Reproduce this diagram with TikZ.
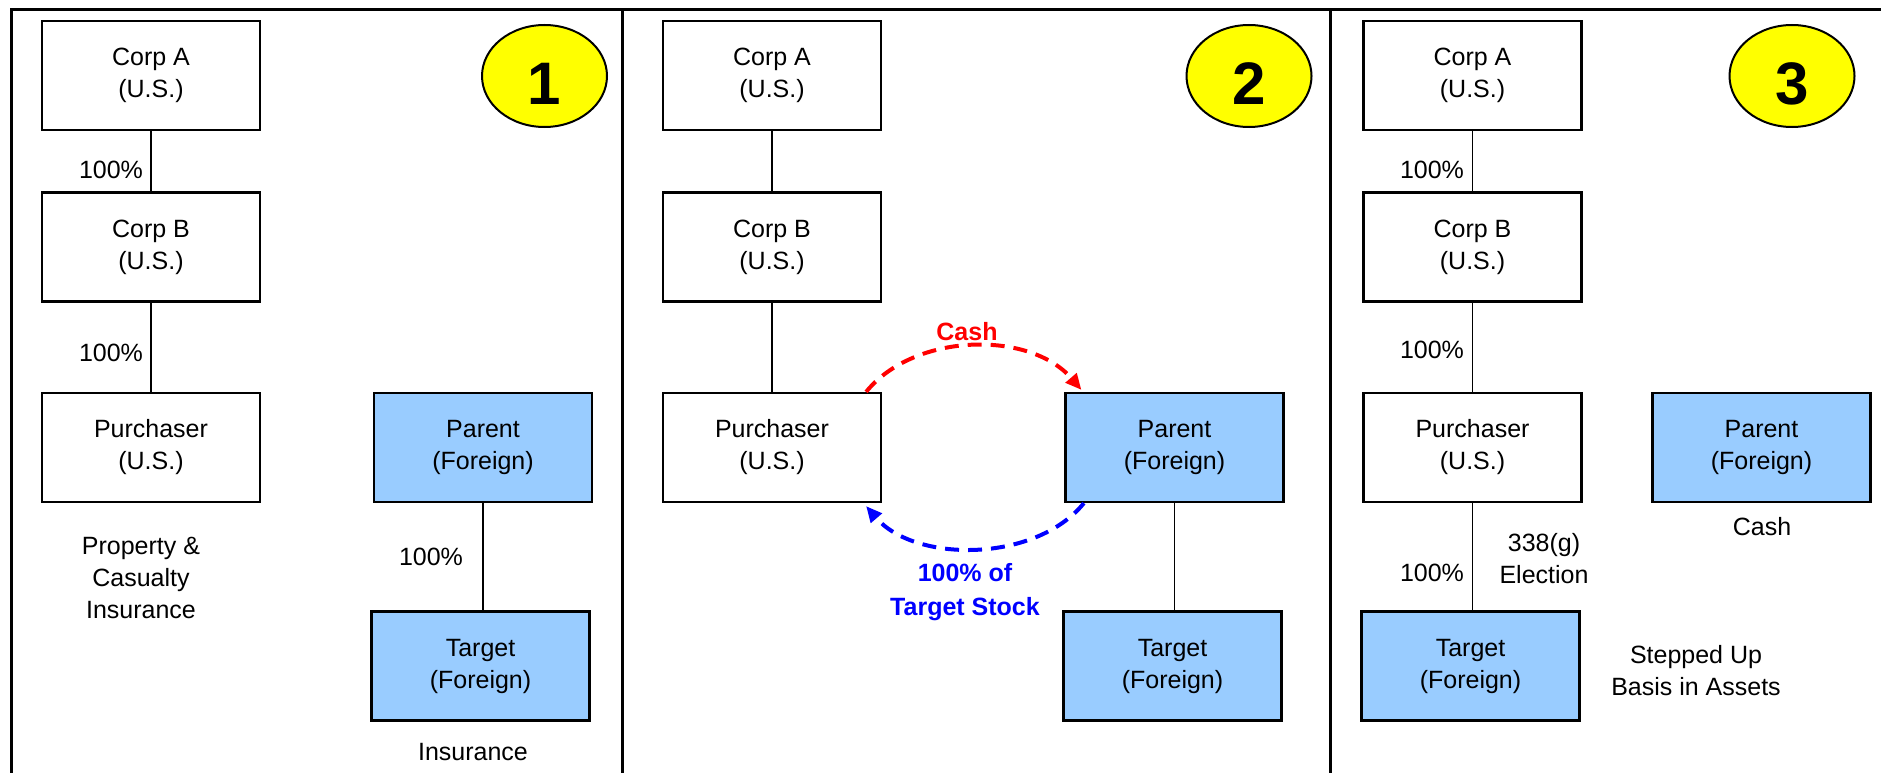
\documentclass[tikz,border=0pt]{standalone}
\usepackage{fontspec}
\setmainfont{Liberation Sans}
\usetikzlibrary{arrows.meta,shapes.geometric}

\definecolor{foreignblue}{HTML}{99CCFF}
\definecolor{stepyellow}{HTML}{FFFF00}
\definecolor{cashred}{HTML}{FF0000}
\definecolor{stockblue}{HTML}{0000FF}

\tikzset{
  entity/.style={draw=black, line width=2.2pt, fill=white, minimum width=218pt,
    minimum height=109pt, inner sep=0pt, align=center,
    font=\fontsize{25}{32}\selectfont},
  foreign/.style={entity, fill=foreignblue},
  link/.style={draw=black, line width=1.6pt},
  pct/.style={font=\fontsize{25}{32}\selectfont, inner sep=0pt},
  note/.style={font=\fontsize{25}{32}\selectfont, inner sep=0pt, align=center},
  badge/.style={ellipse, draw=black, line width=2pt, fill=stepyellow,
    minimum width=125pt, minimum height=102pt, inner sep=0pt},
  badgenum/.style={font=\bfseries\fontsize{60}{60}\selectfont, inner sep=0pt},
  frameline/.style={draw=black, line width=3pt},
  flow/.style={line width=4pt, dash pattern=on 14pt off 9pt,
    -{Triangle[length=16pt,width=14pt]}},
  flowlabel/.style={font=\bfseries\fontsize{25}{34}\selectfont, inner sep=0pt, align=center}
}

\begin{document}
\begin{tikzpicture}[x=1pt,y=-1pt]
\useasboundingbox (0,0) rectangle (1881,773);

% panel frame
\draw[frameline] (11.5,773) -- (11.5,10) -- (1881,10);
\draw[frameline] (622,10) -- (622,773);
\draw[frameline] (1330,10) -- (1330,773);

% ---------- step 1 ----------
\node[badge] (badge1) at (544.5,76) {};
\node[badgenum] (num1) at (544.5,83.5) {1};

\node[entity] (corpA1) at (151,75.5) {Corp A\\(U.S.)};
\node[entity] (corpB1) at (151,247) {Corp B\\(U.S.)};
\node[entity] (purch1) at (151,447.5) {Purchaser\\(U.S.)};
\node[foreign] (parent1) at (483,447.5) {Parent\\(Foreign)};
\node[foreign] (target1) at (480.5,666) {Target\\(Foreign)};

\draw[link] (corpA1) -- (corpB1);
\draw[link] (corpB1) -- (purch1);
\draw[link] (parent1.south) -- (parent1.south |- target1.north);

\node[pct] (pAB1) at (111,170) {100\%};
\node[pct] (pBP1) at (111,353) {100\%};
\node[pct] (pPT1) at (431,557) {100\%};
\node[note] (pc1) at (141,578) {Property \&\\Casualty\\Insurance};
\node[note] (ins1) at (473,752) {Insurance};

% ---------- step 2 ----------
\node[badge] (badge2) at (1249,76) {};
\node[badgenum] (num2) at (1249,83.5) {2};

\node[entity] (corpA2) at (772,75.5) {Corp A\\(U.S.)};
\node[entity] (corpB2) at (772,247) {Corp B\\(U.S.)};
\node[entity] (purch2) at (772,447.5) {Purchaser\\(U.S.)};
\node[foreign] (parent2) at (1174.5,447.5) {Parent\\(Foreign)};
\node[foreign] (target2) at (1172.5,666) {Target\\(Foreign)};

\draw[link] (corpA2) -- (corpB2);
\draw[link] (corpB2) -- (purch2);
\draw[link] (parent2.south) -- (parent2.south |- target2.north);

% cash paid to the seller, stock handed back
\draw[flow, cashred] ([xshift=-16pt]purch2.north east)
  .. controls (914.7,332) and (1030.2,330.4) ..
  ([xshift=17pt,yshift=2pt]parent2.north west);
\draw[flow, stockblue] ([xshift=19.5pt]parent2.south west)
  .. controls (1035.3,563) and (914.7,563) ..
  ([xshift=-16pt,yshift=-3pt]purch2.south east);

\node[flowlabel, text=cashred] (cash2) at (967,332) {Cash};
\node[flowlabel, text=stockblue] (stock2) at (965,592) {100\% of\\Target Stock};

% ---------- step 3 ----------
\node[badge] (badge3) at (1792,76) {};
\node[badgenum] (num3) at (1792,84) {3};

\node[entity] (corpA3) at (1472.5,75.5) {Corp A\\(U.S.)};
\node[entity] (corpB3) at (1472.5,247) {Corp B\\(U.S.)};
\node[entity] (purch3) at (1472.5,447.5) {Purchaser\\(U.S.)};
\node[foreign] (parent3) at (1761.5,447.5) {Parent\\(Foreign)};
\node[foreign] (target3) at (1470.5,666) {Target\\(Foreign)};

\draw[link] (corpA3) -- (corpB3);
\draw[link] (corpB3) -- (purch3);
\draw[link] (purch3.south) -- (purch3.south |- target3.north);

\node[pct] (pAB3) at (1432,170) {100\%};
\node[pct] (pBP3) at (1432,350) {100\%};
\node[pct] (pPT3) at (1432,573) {100\%};
\node[note] (elect3) at (1544,558.5) {338(g)\\Election};
\node[note] (cash3) at (1762,527) {Cash};
\node[note] (basis3) at (1696,670.5) {Stepped Up\\Basis in Assets};
\end{tikzpicture}
\end{document}
